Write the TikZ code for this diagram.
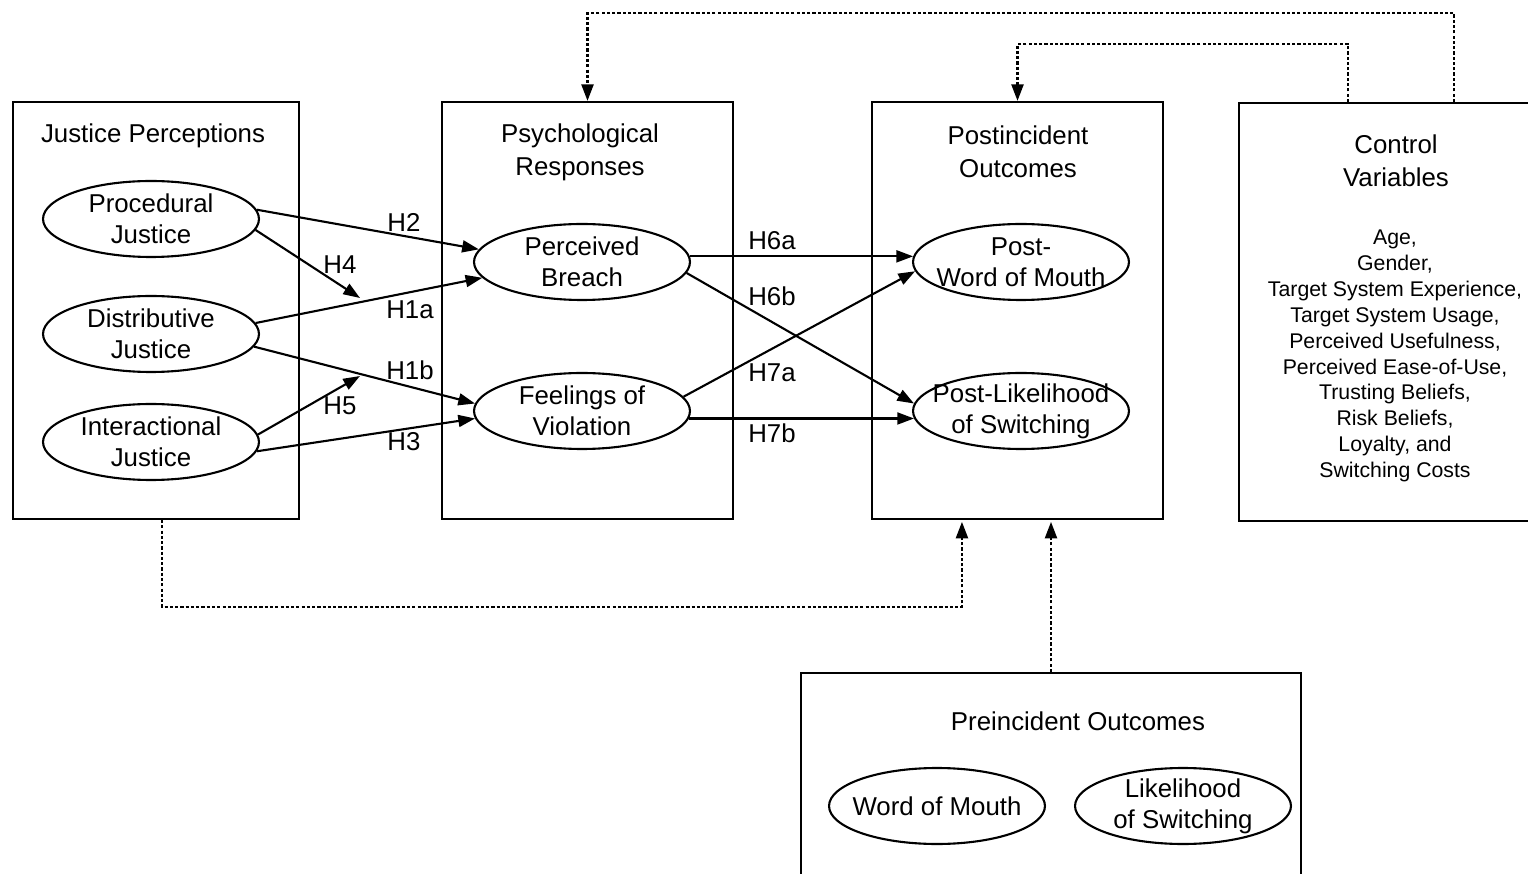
\documentclass[tikz,border=0pt]{standalone}
\usepackage{fontspec}
\setmainfont{Liberation Sans}
\usetikzlibrary{arrows.meta,shapes.geometric}
\begin{document}
\begin{tikzpicture}[x=0.02cm,y=-0.02cm,
  box/.style={draw,line width=1.2pt,inner sep=0pt},
  var/.style={draw,ellipse,line width=1.2pt,inner sep=0pt,minimum width=4.32cm,
    minimum height=1.52cm,
    label={[align=center,inner sep=0pt,font=\fontsize{14.7}{17.6}\selectfont]center:#1}},
  ttl/.style={align=center,font=\fontsize{14.7}{18.7}\selectfont},
  hyp/.style={inner sep=0pt,font=\fontsize{14.7}{17.6}\selectfont},
  link/.style={line width=1.2pt,-{Triangle[length=9.5pt,width=6.8pt]}},
  dep/.style={line width=1.5pt,dash pattern=on 1.8pt off 1.2pt,
    -{Triangle[length=9.5pt,width=6.8pt]}}
]
\useasboundingbox (0,0) rectangle (1528,874);
\clip (0,0) rectangle (1528,874);

% construct boxes
\node[box,minimum width=5.72cm,minimum height=8.34cm] (jus) at (156,310.5) {};
\node[box,minimum width=5.82cm,minimum height=8.34cm] (psy) at (587.5,310.5) {};
\node[box,minimum width=5.82cm,minimum height=8.34cm] (post) at (1017.5,310.5) {};
\node[box,minimum width=6.42cm,minimum height=8.36cm] (ctrl) at (1399.5,312) {};
\node[box,minimum width=10cm,minimum height=4.54cm] (pre) at (1051,786.5) {};

% box titles
\node[ttl] (tjus) at (153,136) {Justice Perceptions};
\node[ttl] (tpsy) at (580,152) {Psychological\\Responses};
\node[ttl] (tpost) at (1018,152) {Postincident\\Outcomes};
\node[ttl] (tctrl) at (1396,161) {Control\\Variables};
\node[ttl] (tpre) at (1078,721) {Preincident Outcomes};
\node[align=center,font=\fontsize{12.1}{14.7}\selectfont] (lst) at (1395,356)
  {Age,\\Gender,\\Target System Experience,\\Target System Usage,\\Perceived Usefulness,\\
   Perceived Ease-of-Use,\\Trusting Beliefs,\\Risk Beliefs,\\Loyalty, and\\Switching Costs};

% latent variables
\node[var={Procedural\\Justice}] (pj) at (151,219) {};
\node[var={Distributive\\Justice}] (dj) at (151,334) {};
\node[var={Interactional\\Justice}] (ij) at (151,442) {};
\node[var={Perceived\\Breach}] (pb) at (582,262) {};
\node[var={Feelings of\\Violation}] (fv) at (582,411) {};
\node[var={Post-\\Word of Mouth}] (pw) at (1021,262) {};
\node[var={Post-Likelihood\\of Switching}] (pl) at (1021,411) {};
\node[var={Word of Mouth}] (wm) at (937,806) {};
\node[var={Likelihood\\of Switching}] (ls) at (1183,806) {};

% moderation targets
\coordinate (m1) at (360,298);
\coordinate (m2) at (360,376);

% hypothesised paths
\draw[link] (pj.5) -- (pb.173);
\draw[link] (pj.-6) -- (m1);
\draw[link] (dj.6) -- (pb.189);
\draw[link] (dj.-7) -- (fv.176);
\draw[link] (ij.4) -- (m2);
\draw[link] (ij.-5) -- (fv.184);
\draw[link] (pb.3) -- (pw.177);
\draw[link] (pb.-6) -- (pl.176);
\draw[link] (fv.8) -- (pw.185);
\draw[link] (fv.-4) -- (pl.184);

% path labels
\node[hyp] (h2) at (404,222) {H2};
\node[hyp] (h4) at (340,265) {H4};
\node[hyp] (h1a) at (410,310) {H1a};
\node[hyp] (h1b) at (410,370) {H1b};
\node[hyp] (h5) at (340,406) {H5};
\node[hyp] (h3) at (404,442) {H3};
\node[hyp] (h6a) at (772,241) {H6a};
\node[hyp] (h6b) at (772,296) {H6b};
\node[hyp] (h7a) at (772,373) {H7a};
\node[hyp] (h7b) at (772,433) {H7b};

% control and baseline effects
\draw[dep] ([xshift=4.32cm]ctrl.north west) -- ++(0,-89) -| (psy.north);
\draw[dep] ([xshift=2.2cm]ctrl.north west) -- ++(0,-58) -| (post.north);
\draw[dep] ([xshift=3cm]jus.south west) -- ++(0,87) -| ([xshift=1.82cm,yshift=-1pt]post.south west);
\draw[dep] (pre.north) -- ([yshift=-1pt]pre.north |- post.south);
\end{tikzpicture}
\end{document}
